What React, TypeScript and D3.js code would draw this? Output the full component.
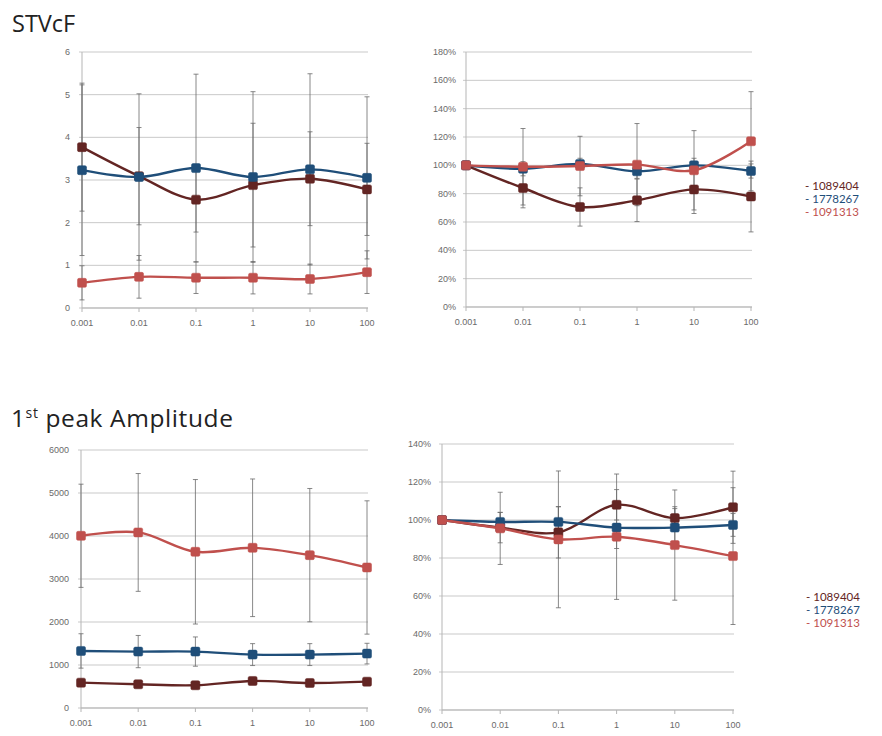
import React from "react";
import * as d3 from "d3";

const categories = ["0.001", "0.01", "0.1", "1", "10", "100"];
const seriesNames = ["1089404", "1778267", "1091313"];
const seriesColors = ["#632523", "#1f4e79", "#c0504d"];

// STVcF absolute
const stvAbs0 = [3.77, 3.09, 2.54, 2.88, 3.03, 2.78];
const stvAbs1 = [3.23, 3.07, 3.28, 3.07, 3.25, 3.05];
const stvAbs2 = [0.59, 0.73, 0.71, 0.71, 0.68, 0.84];
const stvAbsErr0 = [1.5, 1.14, 0.76, 1.45, 1.1, 1.08];
const stvAbsErr1 = [2.0, 1.95, 2.2, 2.0, 2.24, 1.9];
const stvAbsErr2 = [0.4, 0.5, 0.37, 0.38, 0.35, 0.5];
const stvAbsTicks = [0, 1, 2, 3, 4, 5, 6];

// STVcF relative (%)
const stvRel0 = [100, 84, 70.6, 75.3, 83, 78];
const stvRel1 = [100, 97.6, 101, 95.8, 100, 96];
const stvRel2 = [100, 99, 99.5, 100.5, 96.5, 117];
const stvRelErr0 = [0, 14, 13.5, 15, 17, 25];
const stvRelErr1 = [0, 5, 4, 5, 5, 5];
const stvRelErr2 = [0, 27, 21, 29, 28, 35];
const stvRelTicks = [0, 20, 40, 60, 80, 100, 120, 140, 160, 180];

// 1st peak amplitude absolute
const ampAbs0 = [590, 551, 528, 629, 582, 613];
const ampAbs1 = [1327, 1312, 1312, 1242, 1242, 1265];
const ampAbs2 = [4005, 4083, 3633, 3726, 3555, 3268];
const ampAbsErr0 = [80, 80, 80, 80, 80, 80];
const ampAbsErr1 = [400, 375, 340, 255, 255, 240];
const ampAbsErr2 = [1200, 1370, 1680, 1600, 1550, 1550];
const ampAbsTicks = [0, 1000, 2000, 3000, 4000, 5000, 6000];

// 1st peak amplitude relative (%)
const ampRel0 = [100, 96, 93.5, 108, 101, 106.7];
const ampRel1 = [100, 99, 99, 96, 96, 97.4];
const ampRel2 = [100, 95.6, 89.8, 91.2, 86.8, 81];
const ampRelErr0 = [0, 8, 13.5, 8, 6, 19];
const ampRelErr1 = [0, 5, 8, 11, 10, 6];
const ampRelErr2 = [0, 19, 36, 33, 29, 36];
const ampRelTicks = [0, 20, 40, 60, 80, 100, 120, 140];

type PanelProps = {
  left: number;
  right: number;
  top: number;
  bottom: number;
  ticks: number[];
  values: number[][];
  errors: number[][];
  pct?: boolean;
  labelRight: number;
};

const tickFont = "Liberation Sans, Arial, sans-serif";

function Panel({ left, right, top, bottom, ticks, values, errors, pct, labelRight }: PanelProps) {
  const x = d3.scalePoint<string>().domain(categories).range([left, right]);
  const y = d3
    .scaleLinear()
    .domain([ticks[0], ticks[ticks.length - 1]])
    .range([bottom, top]);
  const line = d3
    .line<number>()
    .x((_, i) => x(categories[i]) as number)
    .y((d) => y(d))
    .curve(d3.curveCatmullRom.alpha(0.5));
  const fmt = (t: number) => (pct ? `${t}%` : `${t}`);
  return (
    <g>
      {ticks.map((t) => (
        <g key={t}>
          <line x1={left - 3} x2={right + 1} y1={y(t)} y2={y(t)} stroke="#c9c9c9" strokeWidth={1} />
          <text
            x={labelRight}
            y={y(t)}
            dy="0.35em"
            textAnchor="end"
            fontSize={9}
            fill="#6a6a6a"
            fontFamily={tickFont}
          >
            {fmt(t)}
          </text>
        </g>
      ))}
      <line x1={left} x2={left} y1={top} y2={bottom} stroke="#b5b5b5" strokeWidth={1} />
      <line x1={left} x2={right + 1} y1={bottom} y2={bottom} stroke="#b5b5b5" strokeWidth={1} />
      {categories.map((c) => (
        <g key={c}>
          <line x1={x(c)} x2={x(c)} y1={bottom} y2={bottom + 4} stroke="#b5b5b5" />
          <text
            x={x(c)}
            y={bottom + 18}
            textAnchor="middle"
            fontSize={9}
            fill="#6a6a6a"
            fontFamily={tickFont}
          >
            {c}
          </text>
        </g>
      ))}
      {values.map((vals, si) =>
        vals.map((v, i) => {
          const e = errors[si][i];
          if (!e) return null;
          const cx = x(categories[i]) as number;
          const lo = Math.max(ticks[0], v - e);
          return (
            <g key={`e${si}-${i}`} stroke="#6a6a6a" strokeWidth={0.8}>
              <line x1={cx} x2={cx} y1={y(v + e)} y2={y(lo)} />
              <line x1={cx - 2.5} x2={cx + 2.5} y1={y(v + e)} y2={y(v + e)} />
              <line x1={cx - 2.5} x2={cx + 2.5} y1={y(lo)} y2={y(lo)} />
            </g>
          );
        })
      )}
      {values.map((vals, si) => (
        <g key={`s${si}`}>
          <path d={line(vals) || ""} fill="none" stroke={seriesColors[si]} strokeWidth={2.4} />
          {vals.map((v, i) => (
            <rect
              key={i}
              x={(x(categories[i]) as number) - 4.5}
              y={y(v) - 4.5}
              width={9}
              height={9}
              rx={1.5}
              fill={seriesColors[si]}
              stroke={seriesColors[si]}
              strokeWidth={0.5}
            />
          ))}
        </g>
      ))}
    </g>
  );
}

function Legend({ x, y, gap }: { x: number; y: number; gap: number }) {
  return (
    <g fontFamily="Lato, Open Sans, sans-serif" fontSize={11.5}>
      {seriesNames.map((n, i) => (
        <text key={n} x={x} y={y + i * gap} dy="0.35em" fill={seriesColors[i]}>
          {`- ${n}`}
        </text>
      ))}
    </g>
  );
}

export default function App() {
  return (
    <svg
      width={882}
      height={736}
      style={{ position: "absolute", left: 0, top: 0, background: "#fff" }}
    >
      <rect width={882} height={736} fill="#fff" />
      <text x={12} y={32} fontSize={23.5} fill="#222" fontFamily="Open Sans, Lato, sans-serif">
        STVcF
      </text>
      <text
        x={11}
        y={427}
        fontSize={24.5}
        letterSpacing={0.6}
        fill="#222"
        fontFamily="Open Sans, Lato, sans-serif"
      >
        1
        <tspan fontSize={14} dy={-9}>st</tspan>
        <tspan dy={9}> peak Amplitude</tspan>
      </text>

      <Panel
        left={82}
        right={367}
        top={52}
        bottom={308}
        ticks={stvAbsTicks}
        values={[stvAbs0, stvAbs1, stvAbs2]}
        errors={[stvAbsErr0, stvAbsErr1, stvAbsErr2]}
        labelRight={70}
      />
      <Panel
        left={466}
        right={751}
        top={52}
        bottom={307}
        ticks={stvRelTicks}
        values={[stvRel0, stvRel1, stvRel2]}
        errors={[stvRelErr0, stvRelErr1, stvRelErr2]}
        pct
        labelRight={456}
      />
      <Legend x={805} y={186} gap={13} />

      <Panel
        left={81}
        right={367}
        top={450}
        bottom={708}
        ticks={ampAbsTicks}
        values={[ampAbs0, ampAbs1, ampAbs2]}
        errors={[ampAbsErr0, ampAbsErr1, ampAbsErr2]}
        labelRight={69}
      />
      <Panel
        left={442}
        right={733}
        top={444}
        bottom={710}
        ticks={ampRelTicks}
        values={[ampRel0, ampRel1, ampRel2]}
        errors={[ampRelErr0, ampRelErr1, ampRelErr2]}
        pct
        labelRight={431}
      />
      <Legend x={806} y={597} gap={13} />
    </svg>
  );
}
